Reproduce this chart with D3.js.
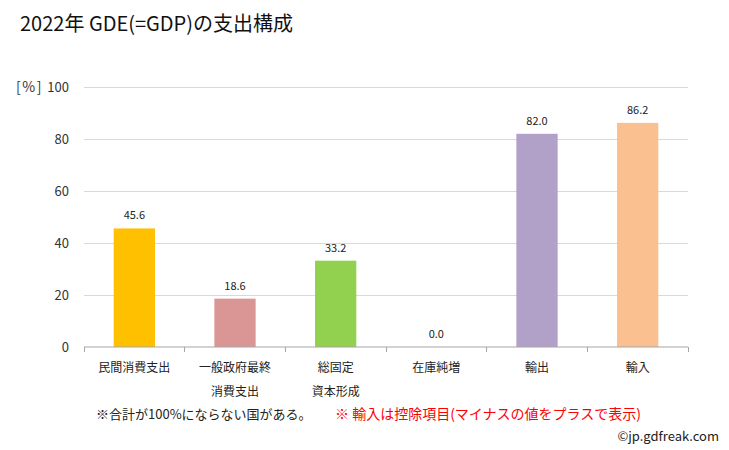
<!DOCTYPE html>
<html><head><meta charset="utf-8">
<script src="https://cdn.jsdelivr.net/npm/d3@7"></script>
<style>body{margin:0;background:#fff;}svg{display:block;font-family:"Noto Sans CJK JP","Noto Sans",sans-serif;}</style>
</head><body><svg id="c" width="729" height="450"></svg>
<script>
const categories = [["民間消費支出"],["一般政府最終","消費支出"],["総固定","資本形成"],["在庫純増"],["輸出"],["輸入"]];
const values = [45.6, 18.6, 33.2, 0.0, 82.0, 86.2];
const colors = ["#ffc000","#da9694","#92d050","#4bacc6","#b1a0c7","#fac090"];
const yTicks = [0,20,40,60,80,100];

const svg = d3.select("#c");
const m = {l:84, r:688, t:87, b:347};
const x = d3.scaleBand().domain(d3.range(values.length)).range([m.l, m.r]).paddingInner(0.59).paddingOuter(0.295);
const xc = d3.scaleBand().domain(d3.range(values.length)).range([m.l, m.r]);
const y = d3.scaleLinear().domain([0,100]).range([m.b, m.t]);

svg.append("text").attr("x",20).attr("y",31).attr("font-size",20).attr("fill","#111").text("2022年 GDE(=GDP)の支出構成");

// gridlines
svg.append("g").selectAll("line").data(yTicks.filter(d=>d>0)).join("line")
  .attr("x1",m.l).attr("x2",m.r).attr("y1",d=>y(d)).attr("y2",d=>y(d))
  .attr("stroke","#d9d9d9").attr("stroke-width",1).attr("shape-rendering","crispEdges");

// y axis labels
const ya = svg.append("g").attr("transform",`translate(${m.l},0)`)
  .call(d3.axisLeft(y).tickValues(yTicks).tickSize(0).tickPadding(15));
ya.select(".domain").remove();
ya.selectAll("text").attr("font-size",13).attr("fill","#333").attr("font-family","'Noto Sans CJK JP',sans-serif");
svg.append("text").attr("x",16).attr("y",92).attr("font-size",14).attr("letter-spacing",1.5).attr("fill","#333").text("[%]");

// bars
svg.append("g").selectAll("rect").data(values).join("rect")
  .attr("x",(d,i)=>x(i)).attr("width",x.bandwidth())
  .attr("y",d=>y(d)).attr("height",d=>y(0)-y(d)).attr("fill",(d,i)=>colors[i]);

// value labels
svg.append("g").selectAll("text").data(values).join("text")
  .attr("x",(d,i)=>x(i)+x.bandwidth()/2).attr("y",d=>y(d)-9)
  .attr("text-anchor","middle").attr("font-size",11).attr("fill","#222").text(d=>d.toFixed(1));

// x axis
const xa = svg.append("g").attr("transform",`translate(0,${m.b})`)
  .call(d3.axisBottom(xc).tickSize(0).tickFormat(""));
xa.select(".domain").attr("stroke","#a6a6a6").attr("d",`M${m.l},0H${m.r}`);
const tickXs = d3.range(values.length+1).map(i=>m.l + i*xc.step());
svg.append("g").selectAll("line").data(tickXs).join("line")
  .attr("x1",d=>d).attr("x2",d=>d).attr("y1",m.b).attr("y2",m.b+5)
  .attr("stroke","#a6a6a6").attr("shape-rendering","crispEdges");

const cl = svg.append("g").selectAll("text").data(categories).join("text")
  .attr("x",(d,i)=>xc(i)+xc.bandwidth()/2).attr("y",372)
  .attr("text-anchor","middle").attr("font-size",12).attr("fill","#222");
cl.selectAll("tspan").data(d=>d).join("tspan")
  .attr("x",function(){return this.parentNode.getAttribute("x");})
  .attr("dy",(d,i)=>i===0?0:24).text(d=>d);

svg.append("text").attr("x",96).attr("y",419).attr("font-size",13).attr("fill","#222").text("※合計が100%にならない国がある。");
svg.append("text").attr("x",335).attr("y",419).attr("font-size",14).attr("fill","#ff0000").text("※ 輸入は控除項目(マイナスの値をプラスで表示)");
svg.append("text").attr("x",719).attr("y",441).attr("text-anchor","end").attr("font-size",13).attr("fill","#222").text("©jp.gdfreak.com");
</script></body></html>
